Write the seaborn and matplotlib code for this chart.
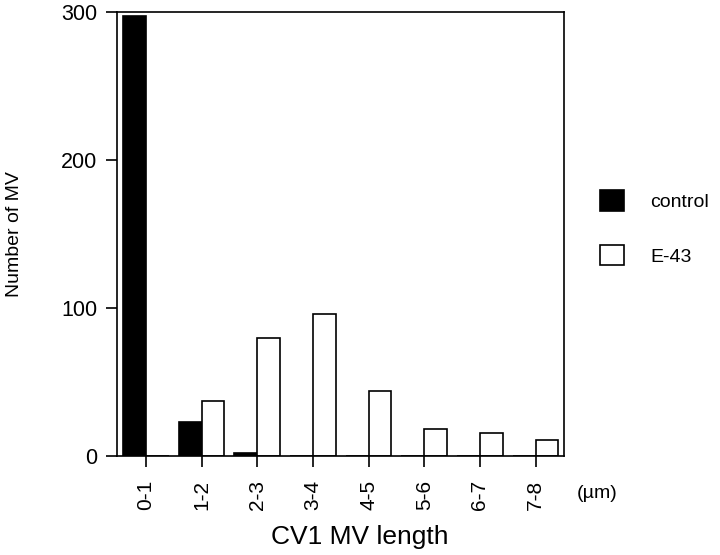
import pandas as pd
import matplotlib
matplotlib.use("Agg")
import matplotlib.pyplot as plt
from matplotlib.patches import Patch
import seaborn as sns

# Data
lengths = ["0-1", "1-2", "2-3", "3-4", "4-5", "5-6", "6-7", "7-8"]
control = [297, 23, 2, 0, 0, 0, 0, 0]
e43 = [0, 37, 80, 96, 44, 18, 15.5, 11]
groups = ["control", "E-43"]
colors = {"control": "black", "E-43": "white"}

df = pd.DataFrame({
    "length": lengths * 2,
    "count": control + e43,
    "group": ["control"] * len(lengths) + ["E-43"] * len(lengths),
})

sns.set_style("ticks")
plt.rcParams["font.family"] = ["Liberation Sans", "DejaVu Sans"]
plt.rcParams["text.color"] = "black"
plt.rcParams["axes.labelcolor"] = "black"

fig = plt.figure(figsize=(7.2, 5.55), dpi=100)
ax = fig.add_axes([0.1625, 0.1784, 0.6208, 0.8000])

sns.barplot(data=df, x="length", y="count", hue="group", hue_order=groups,
            palette=colors, width=0.82, edgecolor="black", linewidth=1.2,
            legend=False, ax=ax)

ax.set_xlim(-0.52, 7.51)
ax.set_ylim(0, 300)
ax.set_yticks([0, 100, 200, 300])
for side in ["top", "right", "left", "bottom"]:
    ax.spines[side].set_visible(True)
    ax.spines[side].set_linewidth(1.2)
    ax.spines[side].set_color("black")

ax.tick_params(axis="both", direction="out", length=8, width=1.2,
               colors="black", labelcolor="black")
ax.tick_params(axis="y", labelsize=15.5, pad=6)
ax.tick_params(axis="x", labelsize=15, pad=9, labelrotation=90)

ax.set_ylabel("Number of MV", fontsize=14)
ax.yaxis.set_label_coords(-0.21, 0.5)
ax.set_xlabel("CV1 MV length", fontsize=19)
ax.xaxis.set_label_coords(0.544, -0.155)

fig.text(577 / 720, 1 - 493 / 555, "(\u00b5m)", fontsize=14, va="center", ha="left")

handles = [Patch(facecolor=colors[g], edgecolor="black", linewidth=1.2, label=g) for g in groups]
fig.legend(handles=handles, loc="upper left", bbox_to_anchor=(600 / 720, 1 - 190 / 555),
           frameon=False, fontsize=14, handlelength=1.25, handleheight=1.25,
           handletextpad=1.35, labelspacing=1.75, borderpad=0, borderaxespad=0)

fig.savefig("out.png", dpi=100)
